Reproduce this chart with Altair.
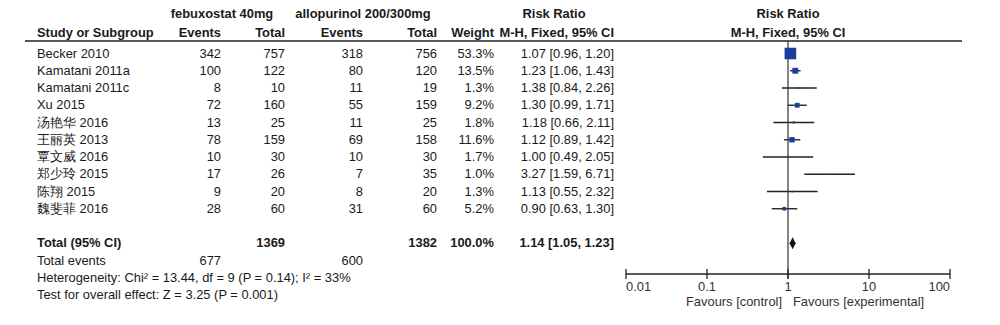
import altair as alt
import pandas as pd

# ---------------- data ----------------
studies = ["Becker 2010", "Kamatani 2011a", "Kamatani 2011c", "Xu 2015", "汤艳华 2016",
           "王丽英 2013", "覃文威 2016", "郑少玲 2015", "陈翔 2015", "魏斐菲 2016"]
feb_events = [342, 100, 8, 72, 13, 78, 10, 17, 9, 28]
feb_total = [757, 122, 10, 160, 25, 159, 30, 26, 20, 60]
allo_events = [318, 80, 11, 55, 11, 69, 10, 7, 8, 31]
allo_total = [756, 120, 19, 159, 25, 158, 30, 35, 20, 60]
weights = [53.3, 13.5, 1.3, 9.2, 1.8, 11.6, 1.7, 1.0, 1.3, 5.2]
rr = [1.07, 1.23, 1.38, 1.30, 1.18, 1.12, 1.00, 3.27, 1.13, 0.90]
rr_lo = [0.96, 1.06, 0.84, 0.99, 0.66, 0.89, 0.49, 1.59, 0.55, 0.63]
rr_hi = [1.20, 1.43, 2.26, 1.71, 2.11, 1.42, 2.05, 6.71, 2.32, 1.30]

total_label = "Total (95% CI)"
total_feb_n = 1369
total_allo_n = 1382
total_weight = 100.0
total_rr, total_lo, total_hi = 1.14, 1.05, 1.23
events_label = "Total events"
total_feb_events = 677
total_allo_events = 600
heterogeneity = "Heterogeneity: Chi² = 13.44, df = 9 (P = 0.14); I² = 33%"
overall = "Test for overall effect: Z = 3.25 (P = 0.001)"

tick_values = [0.01, 0.1, 1, 10, 100]
tick_labels = ["0.01", "0.1", "1", "10", "100"]
fav_left = "Favours [control]"
fav_right = "Favours [experimental]"

# ---------------- tables ----------------
studies_df = pd.DataFrame({
    "row": list(range(len(studies))),
    "study": studies,
    "ev1": [str(v) for v in feb_events],
    "n1": [str(v) for v in feb_total],
    "ev2": [str(v) for v in allo_events],
    "n2": [str(v) for v in allo_total],
    "w": [f"{v:.1f}%" for v in weights],
    "w_num": weights,
    "rr": rr, "lo": rr_lo, "hi": rr_hi,
    "rrtxt": [f"{a:.2f} [{b:.2f}, {c:.2f}]" for a, b, c in zip(rr, rr_lo, rr_hi)],
})
TOTAL_ROW = len(studies) + 1
total_df = pd.DataFrame({
    "row": [TOTAL_ROW],
    "label": [total_label],
    "n1": [str(total_feb_n)],
    "n2": [str(total_allo_n)],
    "w": [f"{total_weight:.1f}%"],
    "rr": [total_rr], "lo": [total_lo], "hi": [total_hi],
    "rrtxt": [f"{total_rr:.2f} [{total_lo:.2f}, {total_hi:.2f}]"],
})
events_df = pd.DataFrame({
    "row": [TOTAL_ROW + 1],
    "label": [events_label],
    "ev1": [str(total_feb_events)],
    "ev2": [str(total_allo_events)],
})
notes_df = pd.DataFrame({"row": [TOTAL_ROW + 2, TOTAL_ROW + 3], "label": [heterogeneity, overall]})
ticks_df = pd.DataFrame({"v": tick_values, "lab": tick_labels})
axis_df = pd.DataFrame({"a": [tick_values[0]], "b": [tick_values[-1]]})

# ---------------- styling / layout ----------------
W, H = 1000, 325
FONT = "Liberation Sans"
FS = 12.9
TXT = "#1a1a1a"
GREY = "#333333"
BLUE = "#1f3d9c"

ROW0, ROWH = 53.5, 17.25
d0 = -ROW0 / ROWH
yscale = alt.Scale(domain=[d0, d0 + H / ROWH], range=[0, H], zero=False, nice=False)
xscale = alt.Scale(type="log", domain=[0.01, 100], range=[626, 950], nice=False)
Y = alt.Y("row:Q", scale=yscale, axis=None)

base_empty = alt.Chart(pd.DataFrame({"d": [0]}))


def col(df, field, x, align="right", bold=False):
    return alt.Chart(df).mark_text(
        align=align, baseline="middle", font=FONT, fontSize=FS, color=TXT,
        fontWeight="bold" if bold else "normal"
    ).encode(x=alt.value(x), y=Y, text=f"{field}:N")


def head(text, x, y, align="center"):
    return base_empty.mark_text(
        align=align, baseline="middle", font=FONT, fontSize=FS, color=TXT,
        fontWeight="bold", text=text
    ).encode(x=alt.value(x), y=alt.value(y))


X_STUDY, X_EV1, X_N1, X_EV2, X_N2, X_W, X_RR = 37, 221, 285, 363, 437, 494, 614

layers = []

# forest CI lines
layers.append(alt.Chart(studies_df).mark_rule(color="#222222", strokeWidth=1.4).encode(
    x=alt.X("lo:Q", scale=xscale, axis=None), x2="hi:Q", y=Y))

# line of no effect
layers.append(base_empty.mark_rule(color=GREY, strokeWidth=1.2).encode(
    x=alt.X(datum=1, type="quantitative", scale=xscale, axis=None),
    y=alt.value(41), y2=alt.value(279)))

# header rule
layers.append(base_empty.mark_rule(color="#222222", strokeWidth=1.5).encode(
    x=alt.value(25), x2=alt.value(962), y=alt.value(41)))

# axis line and ticks
layers.append(alt.Chart(axis_df).mark_rule(color="#222222", strokeWidth=1.3).encode(
    x=alt.X("a:Q", scale=xscale, axis=None), x2="b:Q", y=alt.value(274)))
layers.append(alt.Chart(ticks_df).mark_rule(color="#222222", strokeWidth=1.3).encode(
    x=alt.X("v:Q", scale=xscale, axis=None), y=alt.value(269), y2=alt.value(279)))

# tick labels (first flush left, last flush right)
n_t = len(tick_values)
for sub, al in [(ticks_df.iloc[[0]], "left"), (ticks_df.iloc[1:n_t - 1], "center"),
                (ticks_df.iloc[[n_t - 1]], "right")]:
    layers.append(alt.Chart(sub).mark_text(align=al, baseline="middle", font=FONT, fontSize=FS,
                                           color=GREY).encode(
        x=alt.X("v:Q", scale=xscale, axis=None), y=alt.value(287), text="lab:N"))

# squares
layers.append(alt.Chart(studies_df).mark_square(color=BLUE, filled=True, opacity=1).encode(
    x=alt.X("rr:Q", scale=xscale, axis=None), y=Y,
    size=alt.Size("w_num:Q", scale=alt.Scale(type="linear", domain=[0, 53.3], range=[0, 135], zero=True), legend=None)))

# diamond
layers.append(alt.Chart(total_df).mark_point(
    shape="M-0.5,0L0,-1L0.5,0L0,1Z", filled=True, size=144, color="#111111", opacity=1
).encode(x=alt.X("rr:Q", scale=xscale, axis=None), y=Y))

# headers
layers += [
    head("febuxostat 40mg", 222, 14),
    head("allopurinol 200/300mg", 363, 14),
    head("Risk Ratio", 554, 14),
    head("Risk Ratio", 788, 14),
    head("Study or Subgroup", X_STUDY, 33, "left"),
    head("Events", X_EV1, 33, "right"),
    head("Total", X_N1, 33, "right"),
    head("Events", X_EV2, 33, "right"),
    head("Total", X_N2, 33, "right"),
    head("Weight", X_W, 33, "right"),
    head("M-H, Fixed, 95% CI", X_RR, 33, "right"),
    head("M-H, Fixed, 95% CI", 788, 33),
]

# study rows
layers += [
    col(studies_df, "study", X_STUDY, "left"),
    col(studies_df, "ev1", X_EV1),
    col(studies_df, "n1", X_N1),
    col(studies_df, "ev2", X_EV2),
    col(studies_df, "n2", X_N2),
    col(studies_df, "w", X_W),
    col(studies_df, "rrtxt", X_RR),
]

# total rows
layers += [
    col(total_df, "label", X_STUDY, "left", True),
    col(total_df, "n1", X_N1, bold=True),
    col(total_df, "n2", X_N2, bold=True),
    col(total_df, "w", X_W, bold=True),
    col(total_df, "rrtxt", X_RR, bold=True),
    col(events_df, "label", X_STUDY, "left"),
    col(events_df, "ev1", X_EV1),
    col(events_df, "ev2", X_EV2),
    col(notes_df, "label", X_STUDY, "left"),
]

# favours labels
layers.append(base_empty.mark_text(align="right", baseline="middle", font=FONT, fontSize=FS,
                                   color=GREY, text=fav_left, dx=-6).encode(
    x=alt.X(datum=1, type="quantitative", scale=xscale, axis=None), y=alt.value(302)))
layers.append(base_empty.mark_text(align="left", baseline="middle", font=FONT, fontSize=FS,
                                   color=GREY, text=fav_right, dx=5).encode(
    x=alt.X(datum=1, type="quantitative", scale=xscale, axis=None), y=alt.value(302)))

chart = alt.layer(*layers).properties(
    width=W, height=H, padding=0, autosize=alt.AutoSizeParams(type="none"),
    background="white"
).configure_view(strokeWidth=0)

chart.save("out.html", embed_options={"renderer": "svg", "actions": False})
